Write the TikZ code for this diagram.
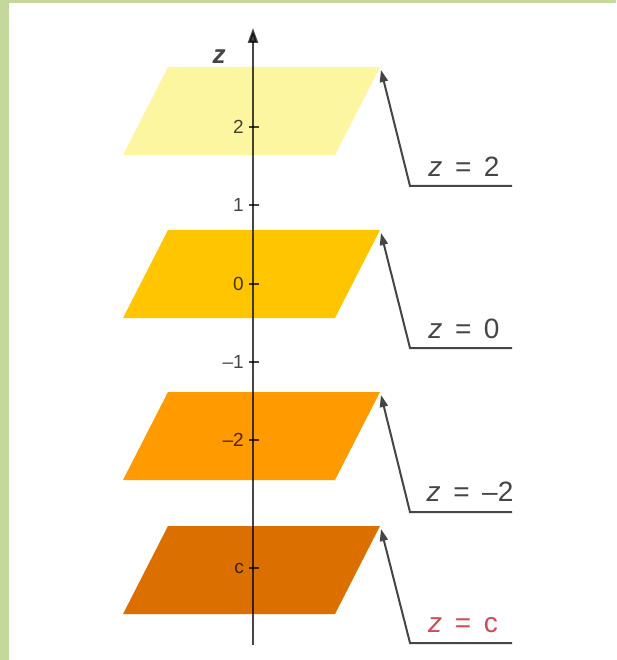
\documentclass[tikz,border=0pt]{standalone}
\usepackage{fontspec}
\setmainfont{Liberation Sans}
\usetikzlibrary{arrows.meta}
\definecolor{bordergreen}{HTML}{C5D89B}
\definecolor{planeA}{HTML}{FDF6A0}
\definecolor{planeB}{HTML}{FFC600}
\definecolor{planeC}{HTML}{FF9A00}
\definecolor{planeD}{HTML}{DB7000}
\definecolor{axisgray}{HTML}{454545}
\definecolor{labelred}{HTML}{D04A5A}
\tikzset{
  plane/.style={draw=none},
  axisline/.style={draw=axisgray, line width=2.4pt, -{Triangle[length=15pt,width=10pt]}},
  tickmark/.style={draw=axisgray, line width=1.8pt},
  ticklabel/.style={anchor=east, inner sep=0pt, text=axisgray, font=\fontsize{19}{22}\selectfont},
  leader/.style={draw=axisgray, line width=2pt, -{Triangle[length=12pt,width=8pt]}},
  eqlabel/.style={anchor=base, inner sep=0pt, text=axisgray, font=\fontsize{28}{32}\selectfont},
}
\newcommand{\eqtext}[1]{{\itshape z}\hspace{0.45em}=\hspace{0.45em}#1}
\begin{document}
\begin{tikzpicture}[x=1pt,y=-1pt]
\useasboundingbox (0,0) rectangle (616,660);
\fill[white] (0,0) rectangle (616,660);
\fill[bordergreen] (0,0) rectangle (616,3);
\fill[bordergreen] (0,0) rectangle (9,660);
% planes
\foreach \t/\c/\n in {67/planeA/pa, 230/planeB/pb, 392/planeC/pc, 526/planeD/pd}{
  \fill[\c] (168,\t) -- (380,\t) -- (335,\t+88) -- (123,\t+88) -- cycle;
  \coordinate (\n) at (381,\t+3);
}
% axis and tick labels (multiplied over the planes)
\begin{scope}[blend mode=multiply]
\coordinate (axbot) at (253,645);
\coordinate (axtop) at (253,28);
\draw[axisline] (axbot) -- (axtop);
\foreach \y/\l/\m in {127/2/t2, 205/1/t1, 284/0/t0, 362/{\textendash1}/tm1, 440/{\textendash2}/tm2, 568/c/tc}{
  \coordinate (\m) at (253,\y);
  \draw[tickmark] ([xshift=-4pt]\m) -- ([xshift=6pt]\m);
  \node[ticklabel] (\m l) at (244,\y) {\l};
}
\node[anchor=center, inner sep=0pt, text=axisgray, font=\fontsize{26}{30}\selectfont\bfseries\itshape] (zlab) at (219,57) {z};
\end{scope}
% leaders
\foreach \e/\n in {186/pa, 348/pb, 512/pc, 643/pd}{
  \coordinate (e\n) at (410,\e);
  \coordinate (h\n) at (512,\e);
  \draw[leader] (h\n) -- (e\n) -- (\n);
}
\node[eqlabel] (la) at (464,177) {\eqtext{2}};
\node[eqlabel] (lb) at (464,338) {\eqtext{0}};
\node[eqlabel] (lc) at (470,501) {\eqtext{\textendash2}};
\node[eqlabel, text=labelred] (ld) at (463,632) {\eqtext{c}};
\end{tikzpicture}
\end{document}
